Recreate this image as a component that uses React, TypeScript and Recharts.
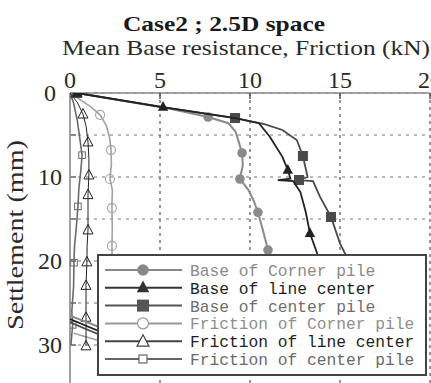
import React from 'react';
import { ScatterChart, Scatter, XAxis, YAxis, CartesianGrid, Legend } from 'recharts';

// [load (kN), settlement (mm), marker shown]
const baseCornerPile: [number, number, number][] = [
  [0.4, 0, 1], [3, 0.95, 0], [5.5, 1.85, 0], [7.67, 2.86, 1], [8.8, 3.6, 0], [9.2, 4.6, 0],
  [9.4, 6, 0], [9.56, 7.14, 1], [9.6, 8.6, 0], [9.44, 10.24, 1], [9.9, 11.5, 0], [10.2, 12.8, 0],
  [10.44, 14.2, 1], [10.7, 16.2, 0], [11.0, 18.7, 1], [11.3, 21.5, 0], [11.6, 24.5, 0],
  [3, 29, 0], [0, 26.5, 0],
];
const baseLineCenter: [number, number, number][] = [
  [0.4, 0, 1], [5.17, 1.67, 1], [9.2, 3.0, 0], [10.5, 3.6, 0], [11.1, 5.2, 0], [11.8, 7.6, 0],
  [12.1, 9.17, 1], [12.25, 10.2, 0], [11.55, 10.36, 0], [12.4, 10.5, 0], [12.8, 11.8, 0],
  [13.1, 14.2, 0], [13.33, 16.7, 1], [13.7, 18.9, 0], [14.1, 22, 0], [14.5, 25, 0],
  [3, 29.6, 0], [0, 26.9, 0],
];
const baseCenterPile: [number, number, number][] = [
  [0.4, 0, 1], [5.2, 1.7, 0], [9.17, 2.98, 1], [10.8, 3.7, 0], [11.8, 4.4, 0], [12.6, 5.6, 0],
  [12.94, 7.5, 1], [13.2, 10.0, 0], [12.72, 10.36, 1], [13.5, 10.5, 0], [13.9, 12.4, 0],
  [14.5, 14.76, 1], [15.0, 17.9, 0], [15.3, 19.2, 0], [15.8, 22, 0], [16.3, 25, 0],
  [3.2, 30.2, 0], [0, 27.3, 0],
];
const frictionCornerPile: [number, number, number][] = [
  [0, 0, 0], [0.5, 0.7, 0], [1.2, 1.7, 0], [1.67, 2.6, 1], [2.0, 3.8, 0], [2.2, 5.3, 0],
  [2.28, 6.8, 1], [2.3, 8.5, 0], [2.22, 10.24, 1], [2.35, 11.5, 0], [2.33, 13.7, 1],
  [2.35, 16, 0], [2.33, 18.2, 1], [2.35, 22, 1], [2.35, 26, 0], [1.5, 29.4, 0], [0.2, 28.6, 0],
];
const frictionLineCenter: [number, number, number][] = [
  [0, 0, 1], [0.4, 1.1, 0], [0.72, 2.5, 1], [0.9, 4, 0], [1.0, 5.83, 1], [1.05, 7.8, 0],
  [1.05, 9.76, 1], [1.0, 12.1, 1], [1.0, 14, 0], [1.0, 16.3, 1], [0.95, 18.2, 0],
  [0.94, 20.1, 1], [0.89, 22.9, 1], [0.89, 26.7, 1], [0.89, 30.1, 1],
];
const frictionCenterPile: [number, number, number][] = [
  [0, 0, 1], [0.2, 1.2, 0], [0.4, 3.2, 0], [0.55, 5.5, 0], [0.67, 7.4, 1], [0.6, 9.3, 0],
  [0.5, 11.2, 0], [0.44, 13.5, 1], [0.35, 16, 0], [0.25, 18.3, 0], [0.22, 20.2, 1],
  [0.2, 23, 0], [0.1, 26, 0], [0.15, 27.6, 1], [0.05, 30, 0],
];

const xTicks = [0, 5, 10, 15, 20];
const yTicks = [0, 5, 10, 15, 20, 25, 30, 35];
const yLabelTicks = [0, 10, 20, 30];

const TITLE = 'Case2 ; 2.5D space';
const X_TITLE = 'Mean Base resistance, Friction (kN)';
const Y_TITLE = 'Settlement (mm)';

const FONT = "'Liberation Serif', 'Times New Roman', serif";
const MONO = "'Liberation Mono', 'DejaVu Sans Mono', monospace";

type Kind = 'circle' | 'triangle' | 'square' | 'ocircle' | 'otriangle' | 'osquare';

interface SeriesDef {
  name: string;
  data: [number, number, number][];
  color: string;
  width: number;
  kind: Kind;
  text: string;
  legendLine: string;
}

const series: SeriesDef[] = [
  { name: 'Friction of Corner pile', data: frictionCornerPile, color: '#a2a2a2', width: 1.6, kind: 'ocircle', text: '#8e8e8e', legendLine: '#9a9a9a' },
  { name: 'Friction of center pile', data: frictionCenterPile, color: '#6a6a6a', width: 1.6, kind: 'osquare', text: '#6a6a6a', legendLine: '#666' },
  { name: 'Friction of line center', data: frictionLineCenter, color: '#222', width: 1, kind: 'otriangle', text: '#1e1e1e', legendLine: '#444' },
  { name: 'Base of Corner pile', data: baseCornerPile, color: '#8a8a8a', width: 2, kind: 'circle', text: '#8a8a8a', legendLine: '#888' },
  { name: 'Base of center pile', data: baseCenterPile, color: '#4a4a4a', width: 1.8, kind: 'square', text: '#6e6e6e', legendLine: '#555' },
  { name: 'Base of line center', data: baseLineCenter, color: '#222', width: 1.8, kind: 'triangle', text: '#1e1e1e', legendLine: '#333' },
];

const legendOrder = [
  'Base of Corner pile', 'Base of line center', 'Base of center pile',
  'Friction of Corner pile', 'Friction of line center', 'Friction of center pile',
];

function drawMarker(kind: Kind, color: string, cx: number, cy: number, s: number) {
  switch (kind) {
    case 'circle':
      return <circle cx={cx} cy={cy} r={s * 0.48} fill={color} />;
    case 'triangle':
      return <polygon points={`${cx},${cy - s * 0.6} ${cx - s * 0.52},${cy + s * 0.38} ${cx + s * 0.52},${cy + s * 0.38}`} fill={color} />;
    case 'square':
      return <rect x={cx - s / 2} y={cy - s / 2} width={s} height={s} fill={color} />;
    case 'ocircle':
      return <circle cx={cx} cy={cy} r={s * 0.45} fill="none" stroke={color} strokeWidth={1.1} />;
    case 'otriangle':
      return <polygon points={`${cx},${cy - s * 0.55} ${cx - s * 0.5},${cy + s * 0.4} ${cx + s * 0.5},${cy + s * 0.4}`} fill="none" stroke={color} strokeWidth={1} />;
    case 'osquare':
    default:
      return <rect x={cx - s * 0.33} y={cy - s * 0.33} width={s * 0.66} height={s * 0.66} fill="none" stroke={color} strokeWidth={1} />;
  }
}

const markerShape = (kind: Kind, color: string) => (props: any) => {
  const { cx, cy, payload } = props;
  if (!payload || !payload.m || cx == null || cy == null) return <g />;
  return drawMarker(kind, color, cx, cy, 10);
};

function TopTitles() {
  return (
    <g>
      <text x={224} y={31} textAnchor="middle" fontFamily={FONT} fontWeight="bold" fontSize={22}
        fill="#1a1a1a" textLength={202} lengthAdjust="spacingAndGlyphs">{TITLE}</text>
      <text x={246} y={55} textAnchor="middle" fontFamily={FONT} fontSize={22}
        fill="#2a2a2a" textLength={368} lengthAdjust="spacingAndGlyphs">{X_TITLE}</text>
    </g>
  );
}

function LeftTitle() {
  return (
    <text x={0} y={0} transform="translate(23,235) rotate(-90)" textAnchor="middle" fontFamily={FONT}
      fontSize={24} fill="#2a2a2a" textLength={190} lengthAdjust="spacingAndGlyphs">{Y_TITLE}</text>
  );
}

const XTick = (p: any) => (
  <text x={p.x} y={88} textAnchor="middle" fontFamily={FONT} fontSize={24} fill="#2a2a2a">
    {p.payload.value}
  </text>
);

const YTick = (p: any) =>
  yLabelTicks.includes(p.payload.value) ? (
    <text x={50} y={p.y + 8} textAnchor="middle" fontFamily={FONT} fontSize={24} fill="#2a2a2a">
      {p.payload.value}
    </text>
  ) : (
    <g />
  );

const LegendBox = () => (
  <svg width={330} height={122} style={{ display: 'block' }}>
    <rect x={1} y={1} width={328} height={120} fill="#fff" stroke="#444" strokeWidth={2} />
    {legendOrder.map((name, i) => {
      const s = series.find((d) => d.name === name)!;
      const cy = 16 + i * 17.8;
      return (
        <g key={name}>
          <line x1={8} x2={85} y1={cy} y2={cy} stroke={s.legendLine} strokeWidth={2} />
          {s.kind.startsWith('o') ? (
            <g>
              {s.kind === 'osquare'
                ? <rect x={42} y={cy - 4} width={8} height={8} fill="#fff" stroke={s.legendLine} strokeWidth={1.2} />
                : s.kind === 'ocircle'
                ? <circle cx={46} cy={cy} r={5.5} fill="#fff" stroke={s.legendLine} strokeWidth={1.2} />
                : <polygon points={`46,${cy - 6.5} 40,${cy + 5} 52,${cy + 5}`} fill="#fff" stroke={s.legendLine} strokeWidth={1.2} />}
            </g>
          ) : (
            drawMarker(s.kind, s.legendLine, 46, cy, 12)
          )}
          <text x={93} y={cy + 6} fontFamily={MONO} fontSize={17} fill={s.text}
            textLength={name.length * 9.75} lengthAdjust="spacingAndGlyphs">{name}</text>
        </g>
      );
    })}
  </svg>
);

export default function App() {
  return (
    <div style={{ position: 'fixed', left: 0, top: 0, width: 431, height: 383, overflow: 'hidden', background: '#fff' }}>
      <ScatterChart width={431} height={395} margin={{ top: 92, right: 0, bottom: 7, left: 69 }}>
        <CartesianGrid horizontal={false} stroke="#333" strokeDasharray="3 4" />
        <CartesianGrid vertical={false} stroke="#777" strokeDasharray="3 5" />
        <XAxis type="number" dataKey="x" orientation="top" domain={[0, 20]} ticks={xTicks} height={1}
          allowDataOverflow interval={0} stroke="#8a8a8a" strokeWidth={1.5} tickSize={-6} tickLine={{ stroke: '#555' }}
          tick={XTick} label={<TopTitles />} />
        <XAxis xAxisId="bottom" type="number" dataKey="x" orientation="bottom" domain={[0, 20]} ticks={[5, 10, 15]}
          height={1} axisLine={false} tickSize={-12} tick={false} tickLine={{ stroke: '#555' }} />
        <YAxis type="number" dataKey="y" domain={[0, 35]} reversed ticks={yTicks} width={1} interval={0}
          allowDataOverflow stroke="#a0a0a0" strokeWidth={2} tickSize={-6} tickLine={{ stroke: '#888' }}
          tick={YTick} label={<LeftTitle />} />
        <YAxis yAxisId="right" orientation="right" type="number" dataKey="y" domain={[0, 35]} reversed
          ticks={yTicks} width={1} axisLine={false} tickSize={-4} tick={false} tickLine={{ stroke: '#888' }} />
        {series.map((s) => (
          <Scatter
            key={s.name}
            name={s.name}
            data={s.data.map(([x, y, m]) => ({ x, y, m }))}
            fill={s.color}
            line={{ stroke: s.color, strokeWidth: s.width }}
            lineType="joint"
            shape={markerShape(s.kind, s.color)}
            isAnimationActive={false}
          />
        ))}
        <Legend layout="vertical" align="center" verticalAlign="middle" content={() => <LegendBox />}
          wrapperStyle={{ left: 97, top: 254, width: 330, height: 122 }} />
      </ScatterChart>
    </div>
  );
}
